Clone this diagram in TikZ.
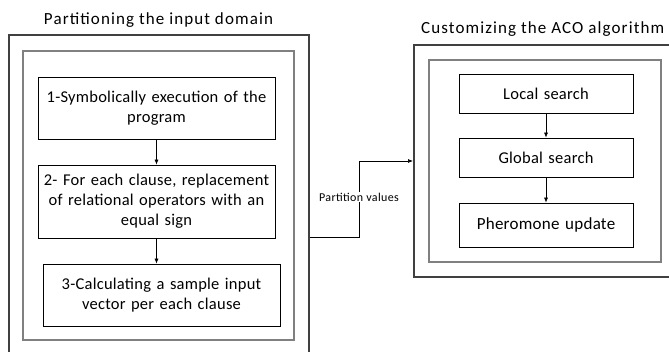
\documentclass[tikz,border=0pt]{standalone}
\usepackage{fontspec}
\setmainfont{Carlito}
\usetikzlibrary{arrows.meta}
\definecolor{outerc}{HTML}{404040}
\definecolor{innerc}{HTML}{808080}
\begin{document}
\begin{tikzpicture}[x=1pt,y=-1pt,
  innerbox/.style={draw=innerc,line width=2.5pt},
  stepbox/.style={draw=black,line width=0.7pt,align=center,inner sep=0pt,
    font=\fontsize{16.5}{20}\selectfont\addfontfeatures{LetterSpace=1.5},text width=235pt},
  titletext/.style={font=\fontsize{17}{20}\selectfont\addfontfeatures{LetterSpace=6.5},inner sep=0pt},
  conn/.style={draw=black,line width=0.7pt,-{Latex[length=5pt,width=4pt]}},
  lbl/.style={fill=white,inner sep=1pt,font=\fontsize{12}{14}\selectfont\addfontfeatures{LetterSpace=3}}]
\useasboundingbox (0,0) rectangle (669,352);
\clip (0,0) rectangle (669,352);
\fill[white] (0,0) rectangle (669,352);
% left group
\node[draw=outerc,line width=2pt,minimum width=300pt,minimum height=335pt] (outerL) at (159,202.5) {};
\node[innerbox,minimum width=271pt,minimum height=289pt] (innerL) at (158.5,195.5) {};
\node[stepbox,minimum width=237pt,minimum height=62pt] (s1) at (156.5,108) {1-Symbolically execution of the\\program};
\node[stepbox,minimum width=237pt,minimum height=73pt] (s2) at (156.5,201.5) {2- For each clause, replacement\\of relational operators with an\\equal sign};
\node[stepbox,minimum width=237pt,minimum height=62pt] (s3) at (161.5,295) {3-Calculating a sample input\\vector per each clause};
\node[titletext] (tL) at (158.5,20) {Partitioning the input domain};
\draw[conn] (s1.south -| 156.5,0) -- (s2.north -| 156.5,0);
\draw[conn] (s2.south -| 156.5,0) -- (s3.north -| 156.5,0);
% right group
\node[draw=outerc,line width=2pt,minimum width=276pt,minimum height=232pt] (outerR) at (552,161) {};
\node[innerbox,minimum width=232pt,minimum height=202pt] (innerR) at (545,161) {};
\node[stepbox,text width=172pt,minimum width=174pt,minimum height=39pt] (r1) at (546,93.5) {Local search};
\node[stepbox,text width=172pt,minimum width=174pt,minimum height=39pt] (r2) at (546,157.5) {Global search};
\node[stepbox,text width=172pt,minimum width=174pt,minimum height=44pt,
  font=\fontsize{17}{20}\selectfont\addfontfeatures{LetterSpace=1.5}] (r3) at (546,225) {Pheromone update};
\node[titletext,anchor=west] (tR) at (421,29) {Customizing the ACO algorithm};
\draw[conn] (r1) -- (r2);
\draw[conn] (r2) -- (r3);
% connector
\coordinate (pv) at (310,237);
\draw[conn] (pv) -- (359,237) -- (359,161) -- (outerR.west |- 0,161);
\node[lbl] (pvl) at (359,197) {Partition values};
\end{tikzpicture}
\end{document}
